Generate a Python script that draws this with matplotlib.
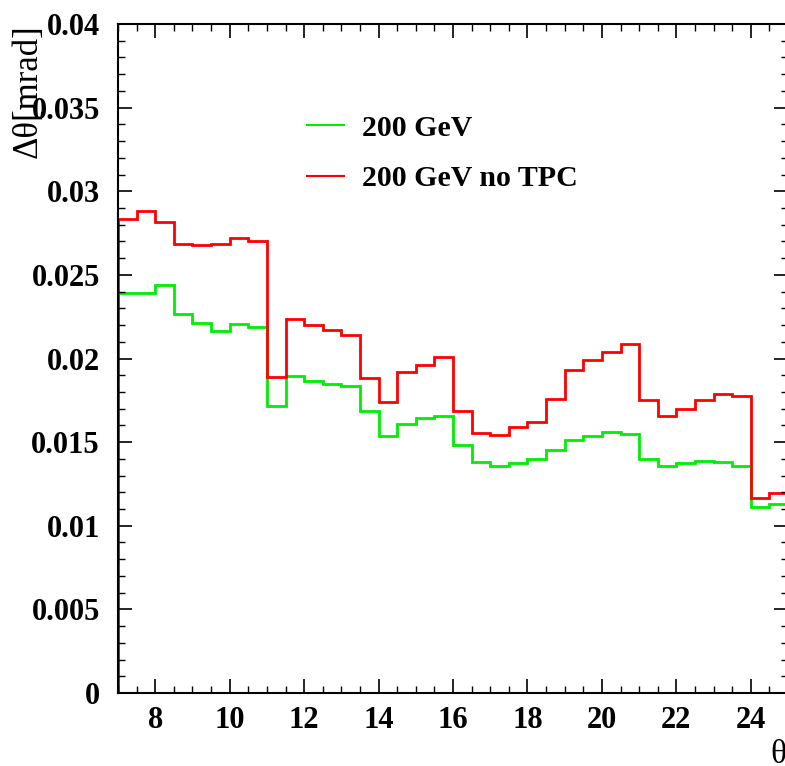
import numpy as np
import matplotlib
matplotlib.use("Agg")
import matplotlib.pyplot as plt
from matplotlib.ticker import MultipleLocator, FixedLocator, FixedFormatter

# Bin edges: 0.5-wide bins from 7 to 25
bin_lo = 7.0
bin_hi = 25.0
bin_width = 0.5

green_vals = [0.02392, 0.02392, 0.02438, 0.02268, 0.02210, 0.02164, 0.02208, 0.02190,
              0.01716, 0.01894, 0.01864, 0.01849, 0.01837, 0.01688, 0.01538, 0.01607,
              0.01644, 0.01658, 0.01483, 0.01379, 0.01357, 0.01377, 0.01401, 0.01453,
              0.01513, 0.01538, 0.01561, 0.01547, 0.01397, 0.01359, 0.01377, 0.01387,
              0.01379, 0.01357, 0.01112, 0.01128]

red_vals = [0.02832, 0.02884, 0.02814, 0.02685, 0.02679, 0.02683, 0.02719, 0.02703,
            0.01891, 0.02234, 0.02199, 0.02169, 0.02142, 0.01882, 0.01742, 0.01919,
            0.01959, 0.02009, 0.01688, 0.01556, 0.01544, 0.01589, 0.01620, 0.01758,
            0.01933, 0.01989, 0.02041, 0.02087, 0.01750, 0.01654, 0.01700, 0.01750,
            0.01790, 0.01776, 0.01166, 0.01198]

labels = ["200 GeV", "200 GeV no TPC"]
xtick_vals = [8, 10, 12, 14, 16, 18, 20, 22, 24]
ytick_vals = [0, 0.005, 0.01, 0.015, 0.02, 0.025, 0.03, 0.035, 0.04]
ytick_labels = ["0", "0.005", "0.01", "0.015", "0.02", "0.025", "0.03", "0.035", "0.04"]

edges = np.arange(bin_lo, bin_hi + bin_width / 2, bin_width)

W, H = 785, 766
fig = plt.figure(figsize=(W / 100, H / 100), dpi=100)
ax = fig.add_axes([118 / W, (H - 693) / H, 670 / W, 669 / H])

serif = "Liberation Serif"
ax.stairs(green_vals, edges, baseline=0, color="#00ee00", lw=2.0, label=labels[0])
ax.stairs(red_vals, edges, baseline=0, color="#ff0000", lw=2.0, label=labels[1])

ax.set_xlim(bin_lo, bin_hi)
ax.set_ylim(0, 0.04)

ax.xaxis.set_major_locator(FixedLocator(xtick_vals))
ax.xaxis.set_minor_locator(MultipleLocator(0.5))
ax.yaxis.set_major_locator(FixedLocator(ytick_vals))
ax.yaxis.set_major_formatter(FixedFormatter(ytick_labels))
ax.yaxis.set_minor_locator(MultipleLocator(0.001))

ax.tick_params(which="both", direction="in", top=True, right=True, color="black")
ax.tick_params(which="major", length=10, width=1.2)
ax.tick_params(which="minor", length=5, width=1.0)
ax.tick_params(axis="y", which="major", pad=13)
ax.tick_params(axis="x", which="major", pad=9)
for lbl in ax.get_xticklabels() + ax.get_yticklabels():
    lbl.set_fontfamily(serif)
    lbl.set_fontweight("bold")
    lbl.set_fontsize(22)

for s in ax.spines.values():
    s.set_linewidth(1.5)

fig.text(12 / W, 1 - 24 / H, "Δθ[mrad]", rotation=90, ha="left", va="top",
         fontfamily=serif, fontsize=25)
fig.text(770 / W, 1 - 770 / H, "θ", ha="left", va="bottom",
         fontfamily=serif, fontsize=24)

leg = ax.legend(loc="upper left", bbox_to_anchor=((280 - 118) / 670, (693 - 88) / 669),
                frameon=False, handlelength=1.25, handletextpad=0.6, labelspacing=0.78,
                prop={"family": serif, "weight": "bold", "size": 21.5})
for line in leg.get_lines():
    line.set_linewidth(1.5)

fig.savefig("out.png", dpi=100)
